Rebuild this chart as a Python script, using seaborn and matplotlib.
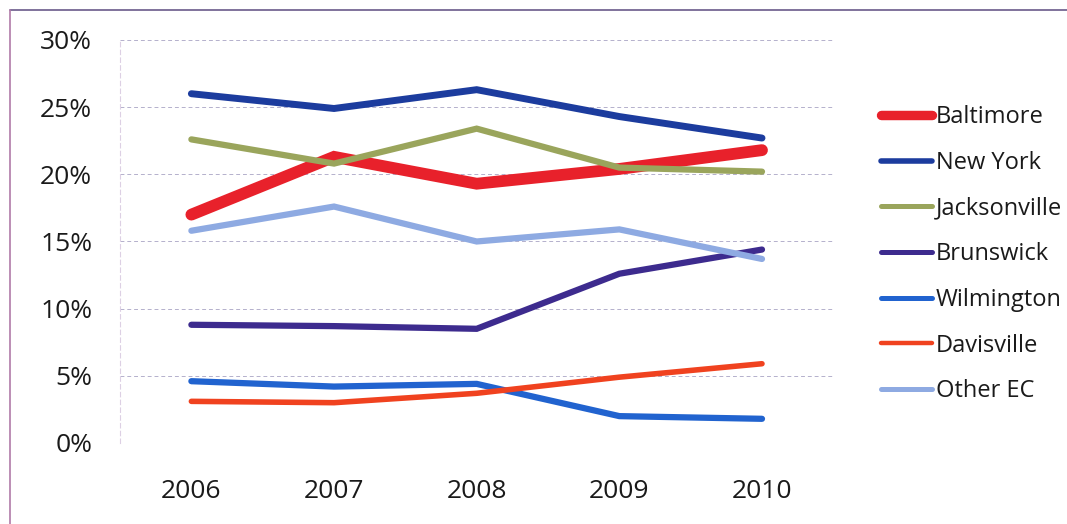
import numpy as np
import pandas as pd
import seaborn as sns
import matplotlib.pyplot as plt
from matplotlib.lines import Line2D

# data
years = ["2006", "2007", "2008", "2009", "2010"]
baltimore = [17.0, 21.3, 19.3, 20.4, 21.8]
new_york = [26.0, 24.9, 26.3, 24.3, 22.7]
jacksonville = [22.6, 20.8, 23.4, 20.5, 20.2]
brunswick = [8.8, 8.7, 8.5, 12.6, 14.4]
wilmington = [4.6, 4.2, 4.4, 2.0, 1.8]
davisville = [3.1, 3.0, 3.7, 4.9, 5.9]
other_ec = [15.8, 17.6, 15.0, 15.9, 13.7]

series = {
    "Baltimore": baltimore,
    "New York": new_york,
    "Jacksonville": jacksonville,
    "Brunswick": brunswick,
    "Wilmington": wilmington,
    "Davisville": davisville,
    "Other EC": other_ec,
}
colors = {
    "Baltimore": "#e8212b",
    "New York": "#1c3c9e",
    "Jacksonville": "#9aa55c",
    "Brunswick": "#3d2b8e",
    "Wilmington": "#2163cf",
    "Davisville": "#f0421f",
    "Other EC": "#8eaae2",
}
widths = {
    "Baltimore": 8.5,
    "New York": 5.0,
    "Jacksonville": 4.5,
    "Brunswick": 4.5,
    "Wilmington": 4.5,
    "Davisville": 4.0,
    "Other EC": 4.5,
}

rows = []
for name, vals in series.items():
    for i, v in enumerate(vals):
        rows.append({"pos": i, "year": years[i], "share": v, "port": name})
df = pd.DataFrame(rows)

sns.set_style("white")
plt.rcParams["font.family"] = ["Open Sans", "DejaVu Sans"]

fig = plt.figure(figsize=(10.67, 5.24), dpi=100)
ax = fig.add_axes([0.1125, 0.1546, 0.6685, 0.7691])

for name in series:
    sns.lineplot(data=df[df.port == name], x="pos", y="share", color=colors[name],
                 lw=widths[name], ax=ax, label=name, solid_capstyle="round",
                 solid_joinstyle="miter", legend=False)

ax.set_xlim(-0.5, 4.5)
ax.set_ylim(0, 30)
ax.set_xticks(range(len(years)))
ax.set_xticklabels(years)
ax.set_yticks(range(0, 31, 5))
ax.set_yticklabels([f"{v}%" for v in range(0, 31, 5)])
ax.set_xlabel("")
ax.set_ylabel("")
ax.tick_params(axis="both", labelsize=19, colors="#1a1a1a", length=0)
ax.tick_params(axis="x", pad=26)
ax.tick_params(axis="y", pad=20)

ax.yaxis.grid(True, color="#b4b0cc", linestyle=(0, (4, 3)), linewidth=0.7)
ax.set_axisbelow(True)
for side in ["top", "right", "bottom"]:
    ax.spines[side].set_visible(False)
ax.spines["left"].set_color("#ddd0e4")
ax.spines["left"].set_linestyle((0, (4, 3)))
ax.spines["left"].set_linewidth(0.8)

# legend
handles = [Line2D([0], [0], color=colors[n], lw=widths[n] * 0.8, solid_capstyle="round")
           for n in series]
fig.legend(handles, list(series.keys()), loc="upper left",
           bbox_to_anchor=(0.806, 0.84), frameon=False, fontsize=17,
           handlelength=2.15, handletextpad=0.15, labelspacing=0.92,
           labelcolor="#1a1a1a")

# outer chart frame (top and left edges visible)
fig.add_artist(Line2D([0.009, 1.0], [0.981, 0.981], color="#6a5a8a", lw=1.2,
                      transform=fig.transFigure))
fig.add_artist(Line2D([0.009, 0.009], [0.0, 0.981], color="#b07aa8", lw=1.2,
                      transform=fig.transFigure))

fig.savefig("out.png", dpi=100, facecolor="white")
